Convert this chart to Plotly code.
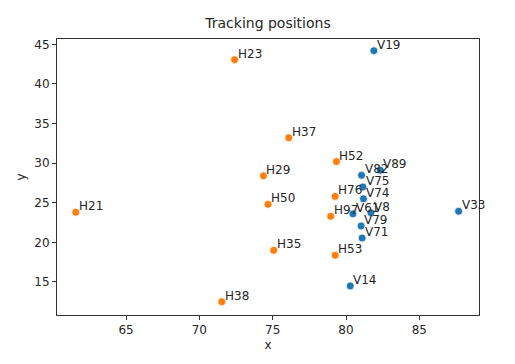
import plotly.graph_objects as go

v_names = ["V19", "V89", "V82", "V75", "V74", "V61", "V8", "V79", "V71", "V33", "V14"]
v_x = [81.9, 82.34, 81.06, 81.15, 81.19, 80.47, 81.7, 81.03, 81.1, 87.68, 80.29]
v_y = [44.2, 29.1, 28.47, 27.0, 25.5, 23.6, 23.75, 22.07, 20.55, 23.93, 14.5]

h_names = ["H23", "H37", "H52", "H29", "H76", "H50", "H21", "H97", "H35", "H53", "H38"]
h_x = [72.4, 76.1, 79.35, 74.37, 79.26, 74.68, 61.57, 78.96, 75.07, 79.26, 71.53]
h_y = [43.07, 33.2, 30.2, 28.4, 25.8, 24.8, 23.8, 23.3, 19.0, 18.37, 12.5]

x_ticks = [65, 70, 75, 80, 85]
y_ticks = [15, 20, 25, 30, 35, 40, 45]

font = "DejaVu Sans"
fig = go.Figure()
for xs, ys, col in [(v_x, v_y, "#1f77b4"), (h_x, h_y, "#ff7f0e")]:
    fig.add_trace(go.Scatter(x=xs, y=ys, mode="markers",
                             marker=dict(color=col, size=8, line=dict(color="white", width=0.8)),
                             showlegend=False, hoverinfo="skip"))

annotations = []
for names, xs, ys in [(v_names, v_x, v_y), (h_names, h_x, h_y)]:
    for n, x, y in zip(names, xs, ys):
        annotations.append(dict(x=x, y=y, text=n, showarrow=False, xanchor="left", yanchor="middle",
                                xshift=1, yshift=6, font=dict(family=font, size=12, color="#262626")))

axis_common = dict(showline=True, linecolor="#333333", linewidth=1, mirror=True, ticks="outside",
                   ticklen=4, tickcolor="#333333", showgrid=False, zeroline=False,
                   tickfont=dict(family=font, size=12, color="#262626"))
fig.update_layout(
    width=507, height=356,
    margin=dict(l=45, r=36, t=31, b=49),
    plot_bgcolor="white", paper_bgcolor="white",
    title=dict(text="Tracking positions", x=0.5, xref="paper", y=0.958, yanchor="middle",
               font=dict(family=font, size=14, color="#262626")),
    xaxis=dict(range=[60.29, 89.07], tickvals=x_ticks,
               title=dict(text="x", font=dict(family=font, size=12, color="#262626"), standoff=4),
               **axis_common),
    yaxis=dict(range=[10.83, 45.68], tickvals=y_ticks,
               title=dict(text="y", font=dict(family=font, size=12, color="#262626"), standoff=6),
               **axis_common),
    annotations=annotations,
)
fig.write_html("out.html")
